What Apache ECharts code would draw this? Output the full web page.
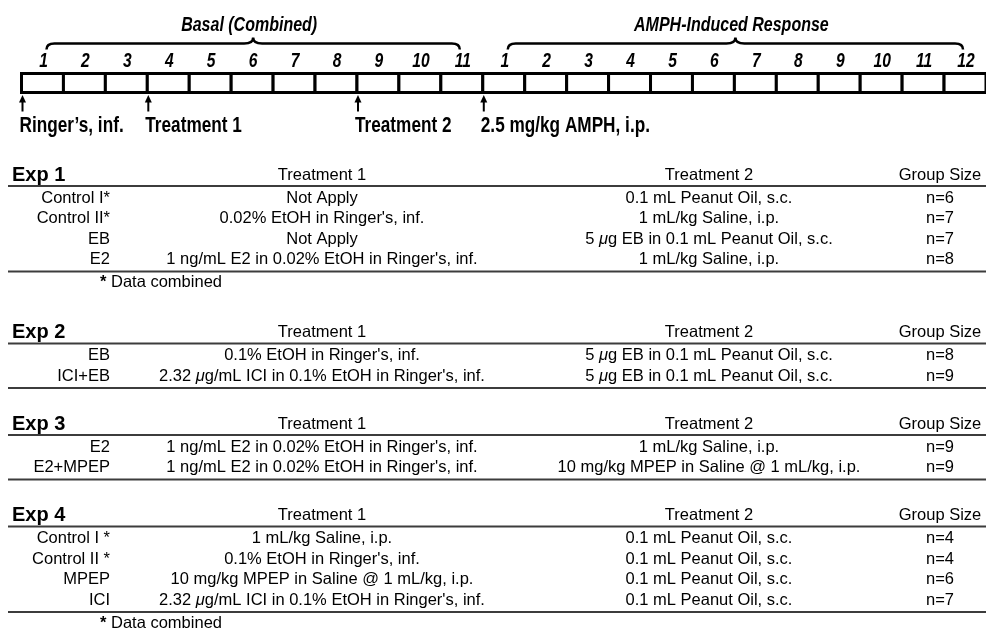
<!DOCTYPE html>
<html>
<head>
<meta charset="utf-8">
<script src="https://cdn.jsdelivr.net/npm/echarts@6/dist/echarts.min.js"></script>
<style>
html, body { margin: 0; padding: 0; background: #fff; }
#container { width: 986px; height: 632px; }
</style>
</head>
<body>
<div id="container"></div>
<script>
// timeline: sampling bins and events
var basalBins = [1, 2, 3, 4, 5, 6, 7, 8, 9, 10, 11];
var amphBins = [1, 2, 3, 4, 5, 6, 7, 8, 9, 10, 11, 12];
var phaseNames = ['Basal (Combined)', 'AMPH-Induced Response'];
var eventNames = ['Ringer\u2019s, inf.', 'Treatment 1', 'Treatment 2', '2.5 mg/kg AMPH, i.p.'];
var eventBins = [0, 3, 8, 11];   // bin boundary where the event happens

// table
var expNames = ['Exp 1', 'Exp 2', 'Exp 3', 'Exp 4'];
var colHeaders = ['Treatment 1', 'Treatment 2', 'Group Size'];
var expNotes = ['* Data combined', '', '', '* Data combined'];

var exp1Groups = ['Control I*', 'Control II*', 'EB', 'E2'];
var exp1Treatment1 = ['Not Apply', '0.02% EtOH in Ringer\'s, inf.', 'Not Apply', '1 ng/mL E2 in 0.02% EtOH in Ringer\'s, inf.'];
var exp1Treatment2 = ['0.1 mL Peanut Oil, s.c.', '1 mL/kg Saline, i.p.', '5 \u03bcg EB in 0.1 mL Peanut Oil, s.c.', '1 mL/kg Saline, i.p.'];
var exp1N = [6, 7, 7, 8];

var exp2Groups = ['EB', 'ICI+EB'];
var exp2Treatment1 = ['0.1% EtOH in Ringer\'s, inf.', '2.32 \u03bcg/mL ICI in 0.1% EtOH in Ringer\'s, inf.'];
var exp2Treatment2 = ['5 \u03bcg EB in 0.1 mL Peanut Oil, s.c.', '5 \u03bcg EB in 0.1 mL Peanut Oil, s.c.'];
var exp2N = [8, 9];

var exp3Groups = ['E2', 'E2+MPEP'];
var exp3Treatment1 = ['1 ng/mL E2 in 0.02% EtOH in Ringer\'s, inf.', '1 ng/mL E2 in 0.02% EtOH in Ringer\'s, inf.'];
var exp3Treatment2 = ['1 mL/kg Saline, i.p.', '10 mg/kg MPEP in Saline @ 1 mL/kg, i.p.'];
var exp3N = [9, 9];

var exp4Groups = ['Control I *', 'Control II *', 'MPEP', 'ICI'];
var exp4Treatment1 = ['1 mL/kg Saline, i.p.', '0.1% EtOH in Ringer\'s, inf.', '10 mg/kg MPEP in Saline @ 1 mL/kg, i.p.', '2.32 \u03bcg/mL ICI in 0.1% EtOH in Ringer\'s, inf.'];
var exp4Treatment2 = ['0.1 mL Peanut Oil, s.c.', '0.1 mL Peanut Oil, s.c.', '0.1 mL Peanut Oil, s.c.', '0.1 mL Peanut Oil, s.c.'];
var exp4N = [4, 4, 6, 7];

var experiments = [
    {name: expNames[0], groups: exp1Groups, t1: exp1Treatment1, t2: exp1Treatment2, n: exp1N, note: expNotes[0]},
    {name: expNames[1], groups: exp2Groups, t1: exp2Treatment1, t2: exp2Treatment2, n: exp2N, note: expNotes[1]},
    {name: expNames[2], groups: exp3Groups, t1: exp3Treatment1, t2: exp3Treatment2, n: exp3N, note: expNotes[2]},
    {name: expNames[3], groups: exp4Groups, t1: exp4Treatment1, t2: exp4Treatment2, n: exp4N, note: expNotes[3]}
];

var SANS = '"Liberation Sans", Arial, Helvetica, sans-serif';
var NARROW_SCALE = 0.8;   // no condensed font installed, squeeze Liberation Sans

// table layout (pixels)
var L = {
    expLeft: 12, labelRight: 110, t1: 322, t2: 709, n: 940, footLeft: 100,
    lineLeft: 8, lineRight: 986,
    top: 175, headLine: 11, firstRow: 12, rowStep: 20.5, endLine: 12,
    foot: 11, gapFoot: 50, gapLine: 36
};

// bins as data
var boxData = [];
basalBins.forEach(function (b, i) { boxData.push([i, b]); });
amphBins.forEach(function (b, i) { boxData.push([basalBins.length + i, b]); });

var phaseData = [
    [0, basalBins.length - 1, 0],
    [basalBins.length, basalBins.length + amphBins.length - 1, 1]
];
var eventData = eventBins.map(function (b, i) { return [b, i]; });

// build table cells and rules from experiment arrays
var tableTexts = [];
var tableRules = [];
var y = L.top;
experiments.forEach(function (e) {
    tableTexts.push([L.expLeft, y, e.name, 'exp']);
    tableTexts.push([L.t1, y, colHeaders[0], 'center']);
    tableTexts.push([L.t2, y, colHeaders[1], 'center']);
    tableTexts.push([L.n, y, colHeaders[2], 'center']);
    var ly = y + L.headLine;
    tableRules.push([L.lineLeft, ly, L.lineRight]);
    var ry = ly + L.firstRow;
    e.groups.forEach(function (g, k) {
        tableTexts.push([L.labelRight, ry, g, 'right']);
        tableTexts.push([L.t1, ry, e.t1[k], 'center']);
        tableTexts.push([L.t2, ry, e.t2[k], 'center']);
        tableTexts.push([L.n, ry, 'n=' + e.n[k], 'center']);
        ry += L.rowStep;
    });
    ly = ry - L.rowStep + L.endLine;
    tableRules.push([L.lineLeft, ly, L.lineRight]);
    if (e.note) {
        tableTexts.push([L.footLeft, ly + L.foot, e.note, 'note']);
        y = ly + L.foot + L.gapFoot;
    } else {
        y = ly + L.gapLine;
    }
});

var rich = {
    mu: {fontSize: 16.5, fontFamily: SANS, fontStyle: 'italic', fill: '#000'},
    b: {fontSize: 16.5, fontFamily: SANS, fontWeight: 'bold', fill: '#000'},
    r: {fontSize: 16.5, fontFamily: SANS, fill: '#000'}
};

function toRich(s) {
    s = s.replace(/\u03bc/g, '}{mu|\u03bc}{r|').replace(/^\* /, '}{b|*}{r| ');
    return '{r|' + s + '}';
}

function narrowText(x, y, text, font, align) {
    return {
        type: 'text', x: x, y: y, scaleX: NARROW_SCALE,
        style: {text: text, font: font, fill: '#000', align: align, verticalAlign: 'middle'}
    };
}

function renderBox(params, api) {
    var i = api.value(0);
    var p0 = api.coord([i, 1]);
    var p1 = api.coord([i + 1, 0]);
    return {
        type: 'group',
        children: [{
            type: 'rect',
            shape: {x: p0[0], y: p0[1], width: p1[0] - p0[0], height: p1[1] - p0[1]},
            style: {fill: '#fff', stroke: '#000', lineWidth: 3}
        },
            narrowText((p0[0] + p1[0]) / 2 + 1, p0[1] - 12, String(api.value(1)),
                'italic bold 19.5px ' + SANS, 'center')
        ]
    };
}

function renderBrace(params, api) {
    var a = api.coord([api.value(0) + 0.5, 1]);
    var b = api.coord([api.value(1) + 0.5, 1]);
    var x0 = a[0] + 4, x1 = b[0] - 2, yb = a[1] - 30;
    var xm = (x0 + x1) / 2;
    var d = 'M' + x0 + ' ' + (yb + 6) +
        ' Q' + x0 + ' ' + yb + ' ' + (x0 + 8) + ' ' + yb +
        ' L' + (xm - 9) + ' ' + yb +
        ' Q' + xm + ' ' + yb + ' ' + xm + ' ' + (yb - 6) +
        ' Q' + xm + ' ' + yb + ' ' + (xm + 9) + ' ' + yb +
        ' L' + (x1 - 8) + ' ' + yb +
        ' Q' + x1 + ' ' + yb + ' ' + x1 + ' ' + (yb + 6);
    return {
        type: 'group',
        children: [{
            type: 'path',
            shape: {pathData: d},
            style: {fill: null, stroke: '#000', lineWidth: 2.5}
        },
            narrowText(xm - 4, yb - 18, phaseNames[api.value(2)], 'italic bold 20px ' + SANS, 'center')
        ]
    };
}

function renderEvent(params, api) {
    var p = api.coord([api.value(0), 0]);
    var x = p[0] + 1, yb = p[1];
    return {
        type: 'group',
        children: [{
            type: 'line',
            shape: {x1: x, y1: yb + 7, x2: x, y2: yb + 19},
            style: {stroke: '#000', lineWidth: 2}
        }, {
            type: 'polygon',
            shape: {points: [[x, yb + 2.5], [x - 3.5, yb + 10], [x + 3.5, yb + 10]]},
            style: {fill: '#000'}
        },
            narrowText(x - 3, yb + 34, eventNames[api.value(1)], 'bold 21.5px ' + SANS, 'left')
        ]
    };
}

function renderCell(params, api) {
    var item = tableTexts[params.dataIndex];
    var p = api.coord([item[0], item[1]]);
    var kind = item[3];
    var style = {fill: '#000', verticalAlign: 'middle'};
    if (kind === 'exp') {
        style.text = item[2];
        style.font = 'bold 20px ' + SANS;
        style.align = 'left';
    } else {
        style.text = toRich(item[2]);
        style.rich = rich;
        style.font = '16.5px ' + SANS;
        style.align = kind === 'right' ? 'right' : (kind === 'center' ? 'center' : 'left');
    }
    return {type: 'text', x: p[0], y: p[1], style: style};
}

function renderRule(params, api) {
    var a = api.coord([api.value(0), api.value(1)]);
    var b = api.coord([api.value(2), api.value(1)]);
    return {
        type: 'line',
        shape: {x1: a[0], y1: a[1], x2: b[0], y2: b[1]},
        style: {stroke: '#3c3c3c', lineWidth: 2}
    };
}

var dom = document.getElementById('container');
var myChart = echarts.init(dom, null, {renderer: 'canvas'});

var option = {
    backgroundColor: '#fff',
    animation: false,
    grid: [
        {left: 21.5, top: 73.5, width: 970, height: 19},
        {left: 0, top: 0, width: 986, height: 632}
    ],
    xAxis: [
        {gridIndex: 0, type: 'value', min: 0, max: basalBins.length + amphBins.length, show: false},
        {gridIndex: 1, type: 'value', min: 0, max: 986, show: false}
    ],
    yAxis: [
        {gridIndex: 0, type: 'value', min: 0, max: 1, show: false},
        {gridIndex: 1, type: 'value', min: 0, max: 632, inverse: true, show: false}
    ],
    series: [
        {type: 'custom', xAxisIndex: 0, yAxisIndex: 0, clip: false, renderItem: renderBox, data: boxData, silent: true},
        {type: 'custom', xAxisIndex: 0, yAxisIndex: 0, clip: false, renderItem: renderBrace, data: phaseData, silent: true},
        {type: 'custom', xAxisIndex: 0, yAxisIndex: 0, clip: false, renderItem: renderEvent, data: eventData, silent: true},
        {type: 'custom', xAxisIndex: 1, yAxisIndex: 1, clip: false, renderItem: renderRule, data: tableRules, silent: true},
        {type: 'custom', xAxisIndex: 1, yAxisIndex: 1, clip: false, renderItem: renderCell,
            data: tableTexts.map(function (t) { return [t[0], t[1]]; }), silent: true}
    ]
};
myChart.setOption(option);
</script>
</body>
</html>
